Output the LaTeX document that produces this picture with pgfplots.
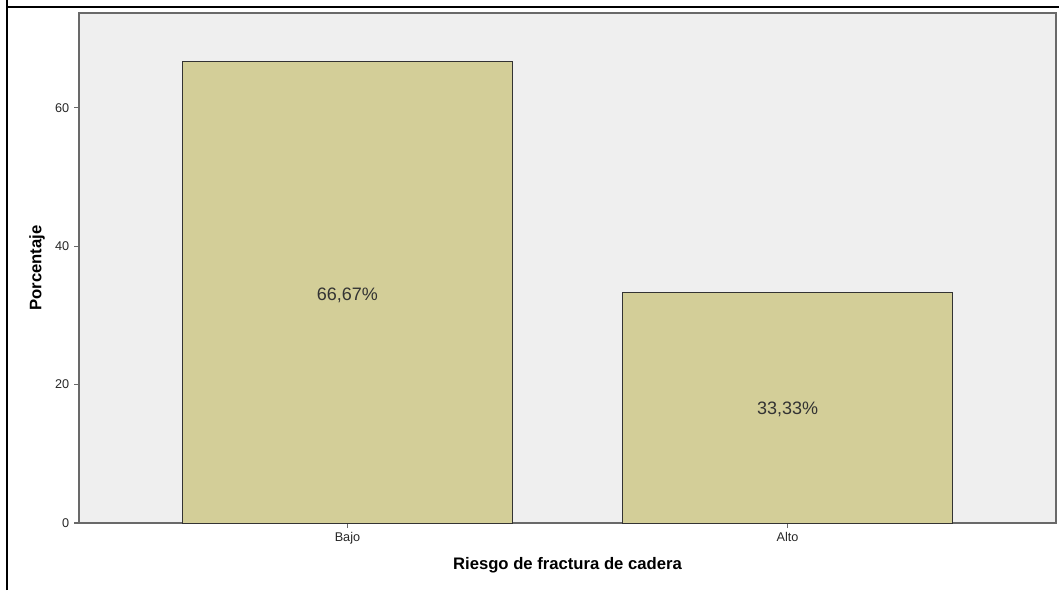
\documentclass[border=0pt]{standalone}
\usepackage{pgfplots}
\pgfplotsset{compat=1.18}
\usepackage{fontspec}
\setmainfont{Liberation Sans}
\definecolor{barfill}{RGB}{211,206,152}
\definecolor{plotbg}{RGB}{239,239,239}
\definecolor{axgray}{RGB}{105,105,105}
% 1 px of the reference = 0.75pt
\begin{document}
\begin{tikzpicture}
\useasboundingbox (0pt,0pt) rectangle (794.25pt,442.5pt);
\draw[line width=1.5pt,black] (5.25pt,442.5pt) -- (5.25pt,437.25pt) -- (794.25pt,437.25pt);
\draw[line width=1.5pt,black] (5.25pt,0pt) -- (5.25pt,437.25pt);
\begin{axis}[
  at={(59.25pt,50.25pt)}, anchor=south west,
  scale only axis, width=732.75pt, height=382.5pt,
  xmin=-0.61, xmax=1.61, ymin=0, ymax=73.7,
  axis background/.style={fill=plotbg},
  axis line style={draw=axgray, line width=1.1pt},
  xtick={0,1}, xticklabels={Bajo,Alto},
  ytick={0,20,40,60},
  tick align=outside, major tick length=3.75pt,
  tick style={draw=axgray, line width=0.8pt},
  xtick pos=bottom, ytick pos=left,
  tick label style={font=\fontsize{9.5}{11}\selectfont, text=black!85},
  /pgf/number format/assume math mode=true,
  xlabel={Riesgo de fractura de cadera},
  ylabel={Porcentaje},
  label style={font=\bfseries\fontsize{12.5}{14}\selectfont},
  xlabel style={at={(axis description cs:0.5,0)}, anchor=center, yshift=-31.5pt},
  ylabel style={at={(axis description cs:0,0.5)}, anchor=center, yshift=31.5pt},
  clip=false,
]
\addplot[ybar, bar width=247.5pt, fill=barfill, draw=black!80, line width=0.7pt]
  coordinates {(0,66.67) (1,33.33)};
\addplot[only marks, mark=none,
  point meta=explicit symbolic,
  nodes near coords,
  every node near coord/.append style={anchor=center, font=\fontsize{13.5}{16}\selectfont, text=black!80}]
  coordinates {(0,32.9)[66,67\%] (1,16.4)[33,33\%]};
\end{axis}
\end{tikzpicture}
\end{document}
